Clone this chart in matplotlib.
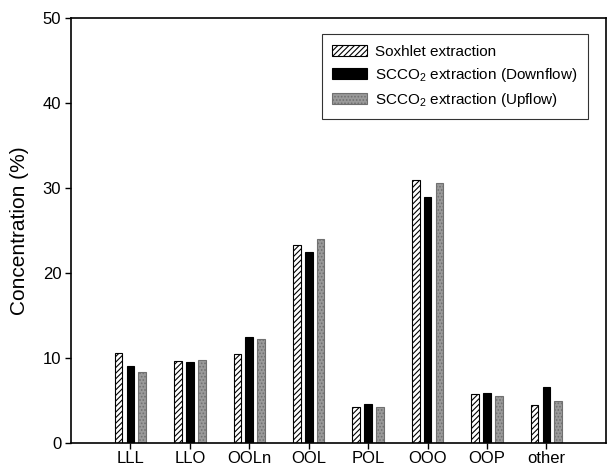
import numpy as np
import matplotlib
matplotlib.use("Agg")
from matplotlib import pyplot as plt

plt.rcParams['font.family'] = ['Liberation Sans', 'DejaVu Sans']
plt.rcParams['mathtext.fontset'] = 'custom'
plt.rcParams['mathtext.rm'] = 'Liberation Sans'
plt.rcParams['hatch.linewidth'] = 0.8

# triglyceride composition of the oil for each extraction method
species = ["LLL", "LLO", "OOLn", "OOL", "POL", "OOO", "OOP", "other"]
soxhlet = [10.6, 9.7, 10.5, 23.3, 4.2, 31.0, 5.8, 4.5]
downflow = [9.1, 9.5, 12.5, 22.5, 4.6, 28.9, 5.9, 6.6]
upflow = [8.4, 9.8, 12.2, 24.0, 4.2, 30.6, 5.5, 5.0]
labels = ["Soxhlet extraction",
          r"SCCO$\mathregular{_2}$ extraction (Downflow)",
          r"SCCO$\mathregular{_2}$ extraction (Upflow)"]

x = np.arange(1, len(species) + 1)
w = 0.13
step = 0.2

fig = plt.figure(figsize=(6.12, 4.7), dpi=100)
ax = fig.add_axes([0.116, 0.0574, 0.874, 0.9043])

ax.bar(x - step, soxhlet, w, color='white', edgecolor='black', hatch='//////',
       linewidth=0.8, label=labels[0])
ax.bar(x, downflow, w, color='black', edgecolor='black', linewidth=0.8,
       label=labels[1])
ax.bar(x + step, upflow, w, color='#9a9a9a', edgecolor='#707070', hatch='.....',
       linewidth=0.8, label=labels[2])

ax.set_xlim(0, 9)
ax.set_ylim(0, 50)
ax.set_xticks(x)
ax.set_xticklabels(species, fontsize=12)
ax.set_yticks(range(0, 51, 10))
ax.tick_params(axis='y', labelsize=12, length=4, width=1, pad=3)
ax.tick_params(axis='x', length=4, width=1, pad=2)
ax.set_ylabel("Concentration (%)", fontsize=15, labelpad=10)

for s in ax.spines.values():
    s.set_linewidth(1.2)

leg = ax.legend(loc='upper right', bbox_to_anchor=(0.967, 0.962), fontsize=11,
                frameon=True, fancybox=False, edgecolor='black',
                handlelength=2.3, handleheight=0.75, handletextpad=0.5,
                borderpad=0.7, labelspacing=0.45, borderaxespad=0)
leg.get_frame().set_linewidth(0.8)

fig.savefig("out.png", dpi=100)
